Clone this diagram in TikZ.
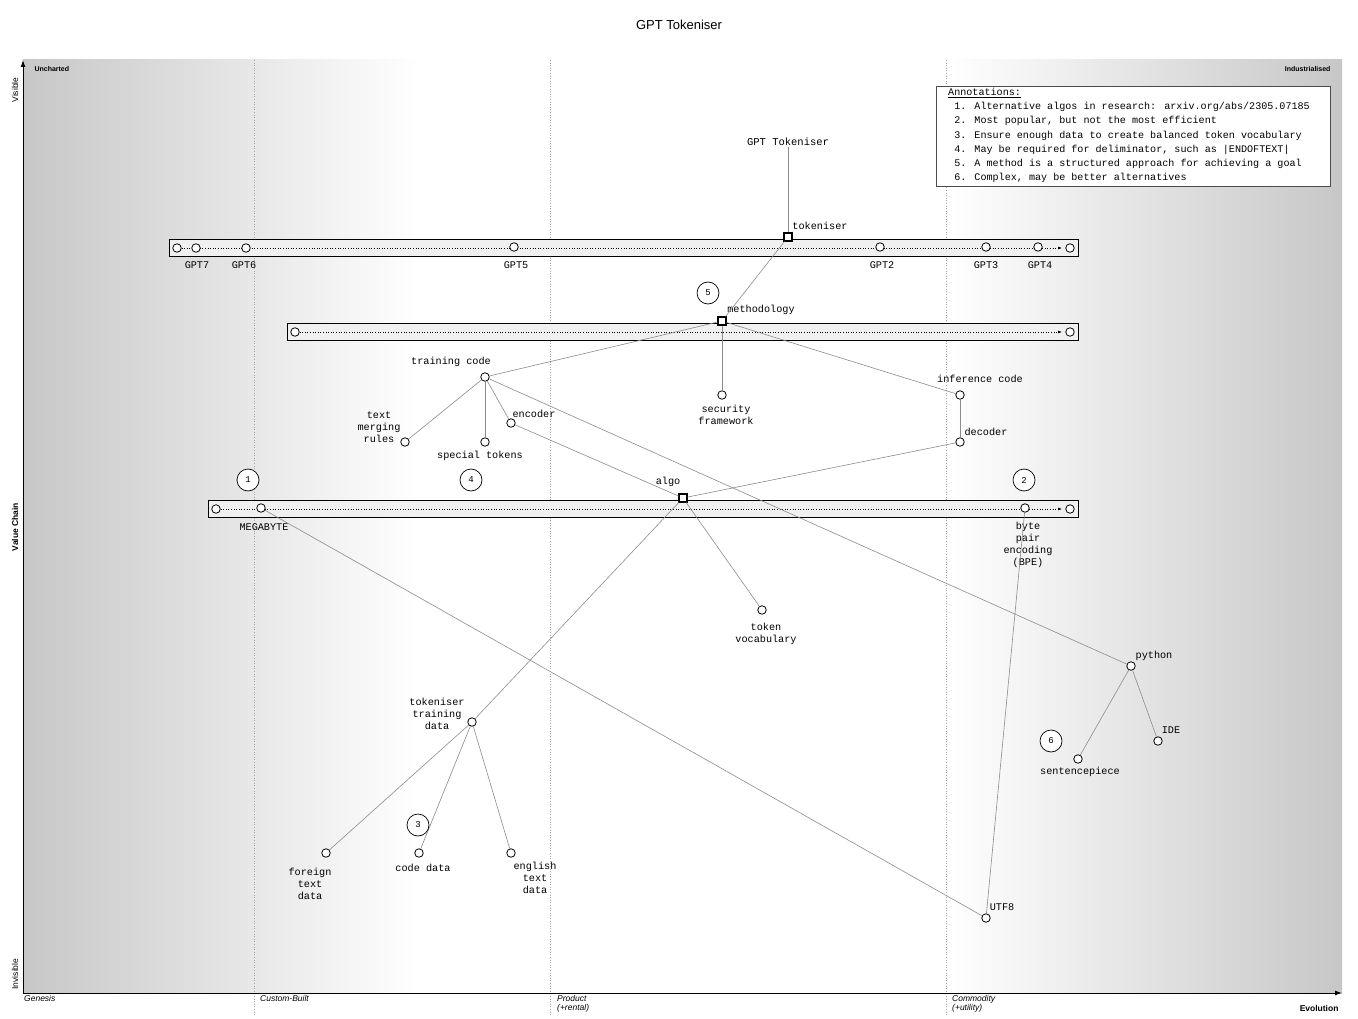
\documentclass[tikz,border=0pt]{standalone}
\usepackage{fontspec}
\setmainfont{Liberation Sans}
\newfontfamily\mono{Liberation Mono}
\usetikzlibrary{arrows.meta}
\begin{document}
\begin{tikzpicture}[x=1pt,y=-1pt,
 comp/.style={circle,draw=black,fill=white,line width=0.8pt,inner sep=0pt,minimum size=8.5pt},
 sq/.style={rectangle,draw=black,fill=white,line width=1.1pt,inner sep=0pt,minimum size=8pt},
 lbl/.style={font=\mono\fontsize{10.2}{12}\selectfont,align=center,inner sep=0pt},
 ann/.style={circle,draw=black,fill=white,line width=0.7pt,inner sep=0pt,minimum size=22pt,font=\mono\fontsize{9}{10}\selectfont},
 link/.style={draw=gray!90,line width=0.6pt},
 pipe/.style={draw=black,fill=white!94!black,line width=0.8pt},
 evo/.style={font=\itshape\fontsize{8.5}{9.5}\selectfont,align=left,anchor=north west,inner sep=0pt}]
\useasboundingbox (0,0) rectangle (1358,1019);
\fill[white] (0,0) rectangle (1358,1019);
% background
\shade[left color=black!22,right color=white] (23,60) rectangle (420,993);
\shade[left color=white,right color=black!22] (946,60) rectangle (1342,993);
\foreach \x in {254,550,946} \draw[gray!70,dotted,line width=0.6pt] (\x,60) -- (\x,1015);
% axes
\draw[-{Latex[length=7pt,width=5pt]},line width=1pt] (23,993) -- (23,60);
\draw[-{Latex[length=7pt,width=5pt]},line width=1pt] (23,993) -- (1342,993);
\node[font=\fontsize{13}{14}\selectfont] (title) at (679,25) {GPT Tokeniser};
\node[font=\bfseries\fontsize{7}{8}\selectfont,anchor=west] (unch) at (31,69) {Uncharted};
\node[font=\bfseries\fontsize{7}{8}\selectfont,anchor=east] (ind) at (1334,69) {Industrialised};
\node[rotate=90,font=\fontsize{8.5}{9}\selectfont,anchor=east] (vis) at (15,74) {Visible};
\node[rotate=90,font=\fontsize{8.5}{9}\selectfont,anchor=west] (invis) at (15,993) {Invisible};
\node[rotate=90,font=\bfseries\fontsize{8.5}{9}\selectfont] (vc) at (15,527) {Value Chain};
\node[font=\bfseries\fontsize{8.5}{9}\selectfont,anchor=east] (evol) at (1342,1008) {Evolution};
\node[evo] (g) at (24,995) {Genesis};
\node[evo] (cb) at (260,995) {Custom-Built};
\node[evo] (pr) at (557,995) {Product\\(+rental)};
\node[evo] (cm) at (952,995) {Commodity\\(+utility)};
% annotations box
\node[draw=black!70,fill=white,line width=0.7pt,anchor=north west,minimum width=394pt,minimum height=100pt,inner sep=0pt] (annbox) at (936,86) {};
\node[anchor=north west,font=\mono\fontsize{10.1}{14.2}\selectfont,align=left,inner sep=0pt] (anntext) at (948,88)
{\underline{Annotations:}\\
\ 1. Alternative algos in research: arxiv.org/abs/2305.07185\\
\ 2. Most popular, but not the most efficient\\
\ 3. Ensure enough data to create balanced token vocabulary\\
\ 4. May be required for deliminator, such as |ENDOFTEXT|\\
\ 5. A method is a structured approach for achieving a goal\\
\ 6. Complex, may be better alternatives};
% pipelines
\draw[pipe] (169,239) rectangle (1078,256);
\draw[pipe] (287,323) rectangle (1078,340);
\draw[pipe] (208,500) rectangle (1078,517);
\node[comp] (p1a) at (177,248) {};
\node[comp] (p1b) at (1070,248) {};
\node[comp] (p2a) at (295,332) {};
\node[comp] (p2b) at (1070,332) {};
\node[comp] (p3a) at (216,509) {};
\node[comp] (p3b) at (1070,509) {};
\draw[dotted,line width=0.6pt,-{Latex[length=4pt,width=3pt]}] (p1a) -- (1062,248);
\draw[dotted,line width=0.6pt,-{Latex[length=4pt,width=3pt]}] (p2a) -- (1062,332);
\draw[dotted,line width=0.6pt,-{Latex[length=4pt,width=3pt]}] (p3a) -- (1062,509);
% anchor
\node[font=\mono\fontsize{10.5}{12}\selectfont,inner sep=1pt] (anc) at (788,142) {GPT Tokeniser};
% components
\node[sq] (tok) at (788,237) {};
\node[lbl] at (820,226) {tokeniser};
\node[comp] (gpt7) at (196,248) {}; \node[lbl] at (197,265) {GPT7};
\node[comp] (gpt6) at (246,248) {}; \node[lbl] at (244,265) {GPT6};
\node[comp] (gpt5) at (514,247) {}; \node[lbl] at (516,265) {GPT5};
\node[comp] (gpt2) at (880,247) {}; \node[lbl] at (882,265) {GPT2};
\node[comp] (gpt3) at (986,247) {}; \node[lbl] at (986,265) {GPT3};
\node[comp] (gpt4) at (1038,247) {}; \node[lbl] at (1040,265) {GPT4};
\node[sq] (meth) at (722,321) {};
\node[lbl] at (761,310) {methodology};
\node[comp] (tc) at (485,377) {}; \node[lbl] at (451,362) {training code};
\node[comp] (sf) at (722,395) {}; \node[lbl] at (726,415) {security\\framework};
\node[comp] (ic) at (960,395) {}; \node[lbl] at (980,379) {inference code};
\node[comp] (tmr) at (405,442) {}; \node[lbl] at (379,427) {text\\merging\\rules};
\node[comp] (st) at (485,442) {}; \node[lbl] at (480,456) {special tokens};
\node[comp] (enc) at (511,423) {}; \node[lbl] at (534,414) {encoder};
\node[comp] (dec) at (960,442) {}; \node[lbl] at (986,432) {decoder};
\node[sq] (algo) at (683,498) {}; \node[lbl] at (668,482) {algo};
\node[comp] (mb) at (261,508) {}; \node[lbl] at (264,527) {MEGABYTE};
\node[comp] (bpe) at (1025,508) {}; \node[lbl] at (1028,545) {byte\\pair\\encoding\\(BPE)};
\node[comp] (tv) at (762,610) {}; \node[lbl] at (766,634) {token\\vocabulary};
\node[comp] (py) at (1131,666) {}; \node[lbl] at (1154,656) {python};
\node[comp] (ide) at (1158,741) {}; \node[lbl] at (1171,730) {IDE};
\node[comp] (sp) at (1078,759) {}; \node[lbl] at (1080,772) {sentencepiece};
\node[comp] (ttd) at (472,722) {}; \node[lbl] at (437,714) {tokeniser\\training\\data};
\node[comp] (ftd) at (326,853) {}; \node[lbl] at (310,884) {foreign\\text\\data};
\node[comp] (cd) at (419,853) {}; \node[lbl] at (423,868) {code data};
\node[comp] (etd) at (511,853) {}; \node[lbl] at (535,878) {english\\text\\data};
\node[comp] (utf) at (986,918) {}; \node[lbl] at (1002,907) {UTF8};
% links
\path[link] (anc) -- (tok);
\path[link] (tok) -- (meth);
\path[link] (meth) -- (tc);
\path[link] (meth) -- (sf);
\path[link] (meth) -- (ic);
\path[link] (tc) -- (tmr);
\path[link] (tc) -- (st);
\path[link] (tc) -- (enc);
\path[link] (tc) -- (py);
\path[link] (enc) -- (algo);
\path[link] (ic) -- (dec);
\path[link] (dec) -- (algo);
\path[link] (algo) -- (tv);
\path[link] (algo) -- (ttd);
\path[link] (mb) -- (utf);
\path[link] (bpe) -- (utf);
\path[link] (py) -- (sp);
\path[link] (py) -- (ide);
\path[link] (ttd) -- (ftd);
\path[link] (ttd) -- (cd);
\path[link] (ttd) -- (etd);
% annotation markers
\node[ann] (a1) at (248,480) {1};
\node[ann] (a2) at (1024,480) {2};
\node[ann] (a3) at (418,825) {3};
\node[ann] (a4) at (471,480) {4};
\node[ann] (a5) at (708,293) {5};
\node[ann] (a6) at (1051,741) {6};
\end{tikzpicture}
\end{document}
